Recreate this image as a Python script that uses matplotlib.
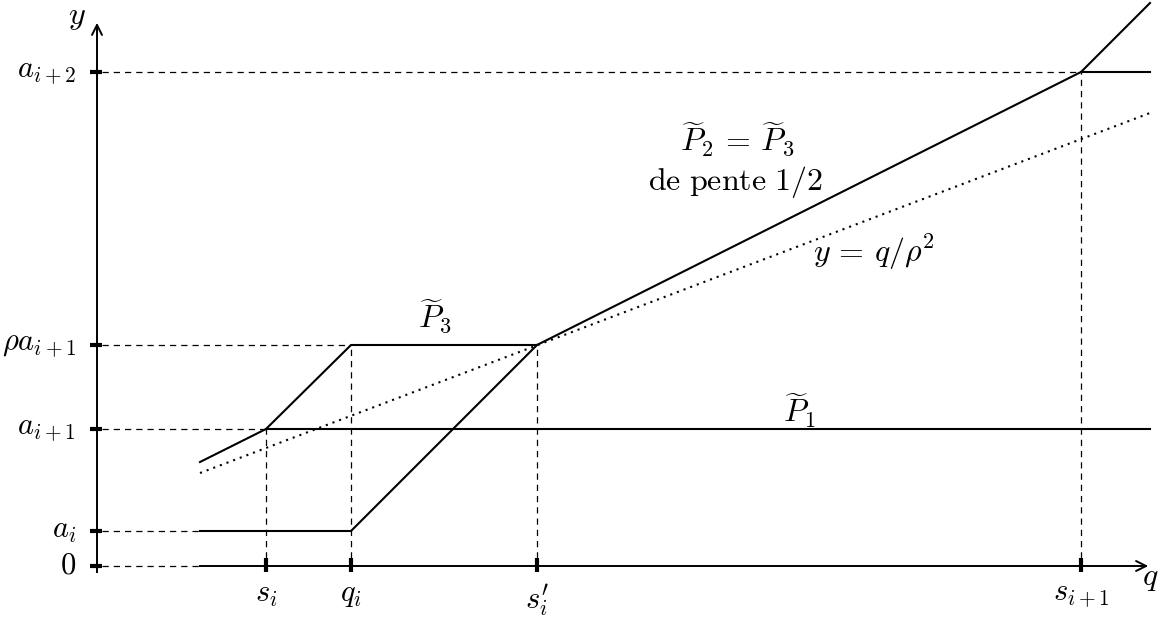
import matplotlib
matplotlib.use("Agg")
import matplotlib.pyplot as plt

plt.rcParams["mathtext.fontset"] = "cm"
plt.rcParams["font.family"] = "cmr10"

# abscissas of the marked points on the q axis
X_TICKS = [169, 254, 440, 984]
X_LABELS = [r"$s_i$", r"$q_i$", r"$s_i'$", r"$s_{i+1}$"]

# ordinates of the marked levels on the y axis
Y_TICKS = [0, 35, 137, 221, 494]
Y_LABELS = [r"$0$", r"$a_i$", r"$a_{i+1}$", r"$\rho a_{i+1}$", r"$a_{i+2}$"]

Q_START = 103
Q_END = 1053

# piecewise-linear curves
P1_X = [169, Q_END]
P1_Y = [137, 137]
P3_X = [Q_START, 169, 254, 440, 984, Q_END]
P3_Y = [104, 137, 221, 221, 494, 563]
LOW_X = [Q_START, 254, 440]
LOW_Y = [35, 35, 221]
TOP_X = [984, Q_END]
TOP_Y = [494, 494]

# tangent line y = q / rho^2
TAN_X = [Q_START, Q_END]
TAN_Y = [93, 453]

# dashed guide lines
H_GUIDES = [(0, Q_START, 0), (0, Q_START, 35), (0, 169, 137), (0, 254, 221), (0, 984, 494)]
V_GUIDES = [(169, 0, 137), (254, 0, 221), (440, 0, 221), (984, 0, 494)]

FS = 23
FS_TICK = 22

fig = plt.figure(figsize=(11.59, 6.19), dpi=100)
ax = fig.add_axes([0, 0, 1, 1])
ax.set_xlim(-97, 1062)
ax.set_ylim(-53, 566)
ax.axis("off")

guide = dict(color="black", lw=0.9, linestyle=(0, (5, 4)))
for x0, x1, y in H_GUIDES:
    ax.plot([x0 + 5, x1], [y, y], **guide)
for x, y0, y1 in V_GUIDES:
    ax.plot([x, x], [y0 + 8, y1], **guide)

# axes
ax.plot([0, 0], [-6, 540], color="black", lw=1.4)
ax.annotate("", xy=(0, 546), xytext=(0, 530),
            arrowprops=dict(arrowstyle="->", lw=1.4, color="black", mutation_scale=18))
ax.plot([Q_START, Q_END - 4], [0, 0], color="black", lw=1.4)
ax.annotate("", xy=(Q_END + 1, 0), xytext=(Q_END - 15, 0),
            arrowprops=dict(arrowstyle="->", lw=1.4, color="black", mutation_scale=18))

for y, lab in zip(Y_TICKS, Y_LABELS):
    ax.plot([-7, 5], [y, y], color="black", lw=3, solid_capstyle="butt")
    ax.text(-21, y, lab, ha="right", va="center", fontsize=FS_TICK)
for x, lab in zip(X_TICKS, X_LABELS):
    ax.plot([x, x], [-6, 8], color="black", lw=3, solid_capstyle="butt")
    ax.text(x, -16, lab, ha="center", va="top", fontsize=FS_TICK)

ax.text(-20, 548, r"$y$", ha="center", va="center", fontsize=FS)
ax.text(Q_END, -13, r"$q$", ha="center", va="center", fontsize=FS)

line = dict(color="black", lw=1.5, solid_joinstyle="miter")
ax.plot(P1_X, P1_Y, **line)
ax.plot(P3_X, P3_Y, **line)
ax.plot(LOW_X, LOW_Y, **line)
ax.plot(TOP_X, TOP_Y, **line)
ax.plot(TAN_X, TAN_Y, color="black", lw=1.5, linestyle=(0, (1, 2.4)))

ax.text(338, 250, r"$\widetilde{P}_3$", ha="center", va="center", fontsize=FS)
ax.text(703, 155, r"$\widetilde{P}_1$", ha="center", va="center", fontsize=FS)
ax.text(640, 427, r"$\widetilde{P}_2\,=\,\widetilde{P}_3$", ha="center", va="center", fontsize=FS)
ax.text(639, 384, r"$\mathrm{de\ pente\ 1/2}$", ha="center", va="center", fontsize=FS)
ax.text(777, 314, r"$y\,=\,q/\rho^2$", ha="center", va="center", fontsize=FS)

fig.savefig("out.png", dpi=100)
